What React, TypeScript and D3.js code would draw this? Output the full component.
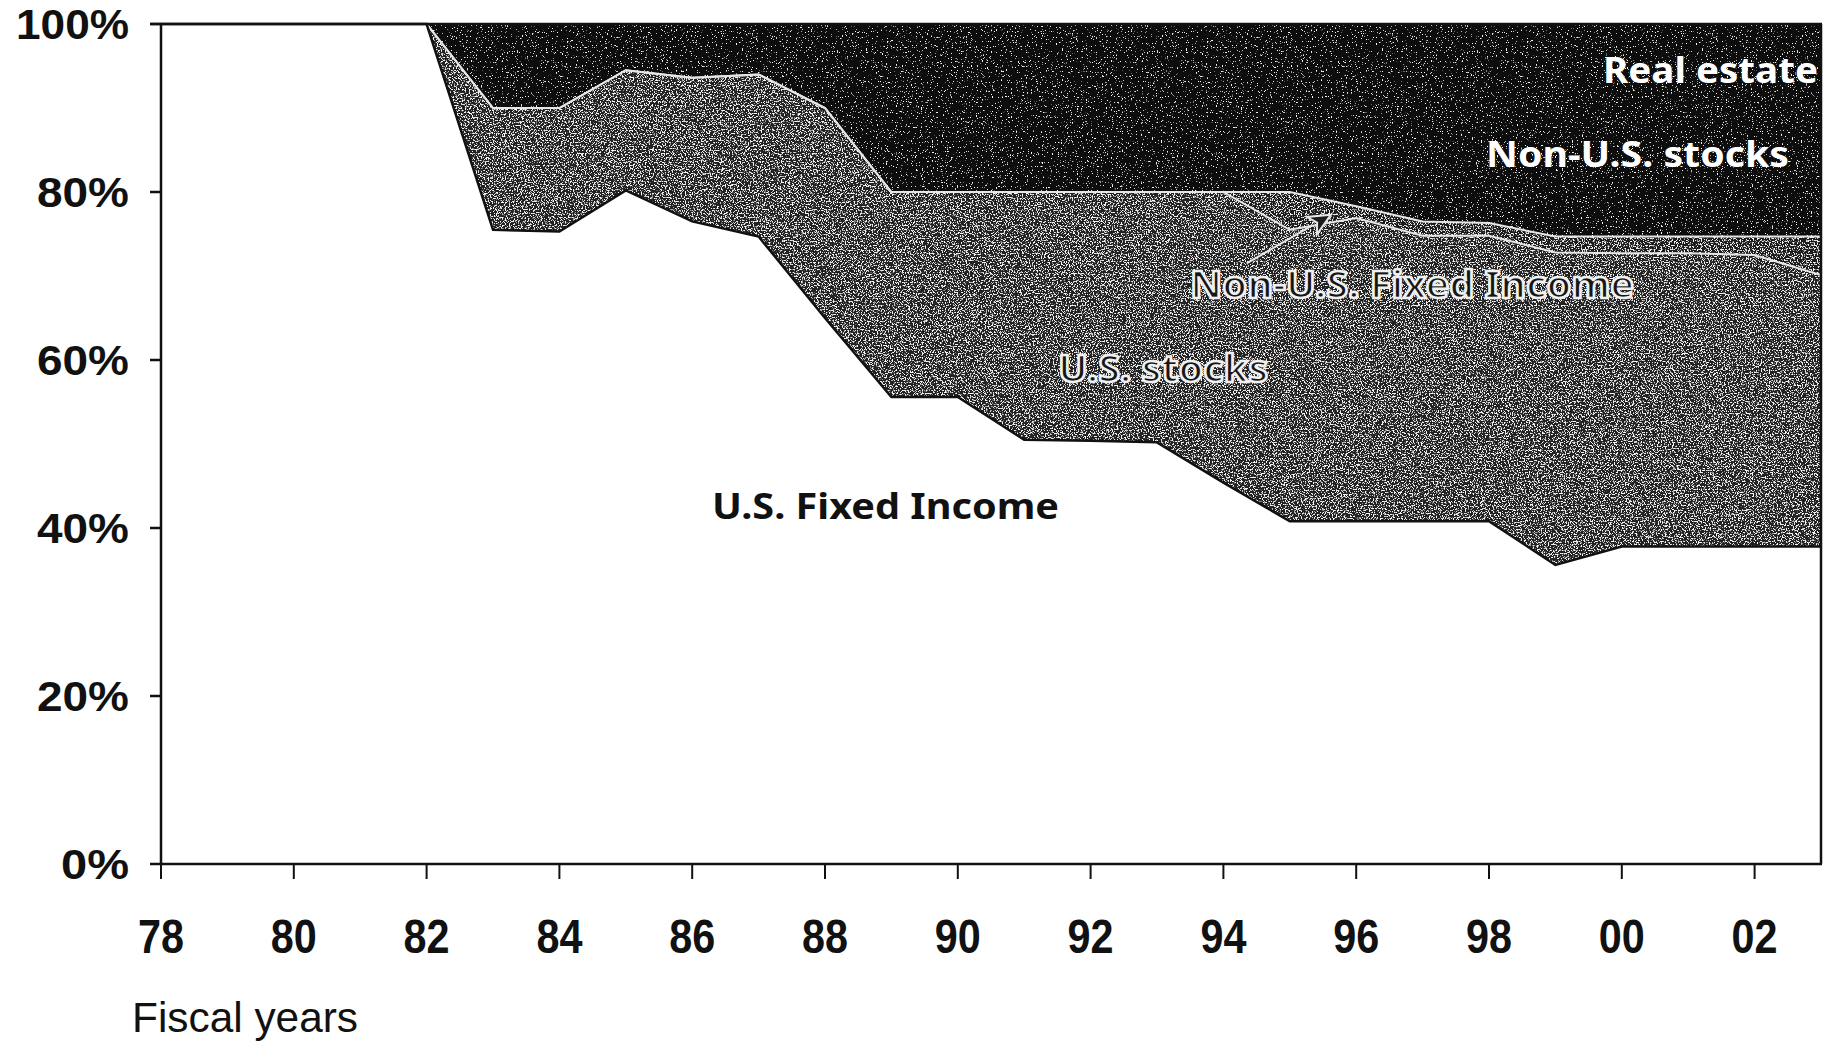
import React from "react";
import * as d3 from "d3";

const W = 1830;
const H = 1049;

// fiscal years 1978 - 2003
const years = [
  1978, 1979, 1980, 1981, 1982, 1983, 1984, 1985, 1986, 1987, 1988, 1989, 1990,
  1991, 1992, 1993, 1994, 1995, 1996, 1997, 1998, 1999, 2000, 2001, 2002, 2003,
];

// asset allocation, % of portfolio
const usFixedIncome = [
  100, 100, 100, 100, 100, 75.5, 75.3, 80.2, 76.5, 74.7, 65, 55.6, 55.6,
  50.5, 50.4, 50.2, 45.4, 40.8, 40.8, 40.8, 40.8, 35.6, 37.8, 37.8, 37.8, 37.8,
];
const usStocks = [
  0, 0, 0, 0, 0, 14.5, 14.7, 14.3, 17.1, 19.3, 25, 24.4, 24.4,
  29.5, 29.6, 29.8, 34.6, 34.7, 36.1, 34.0, 34.0, 37.2, 34.9, 34.9, 34.7, 32.3,
];
const nonUSFixedIncome = [
  0, 0, 0, 0, 0, 0, 0, 0, 0, 0, 0, 0, 0,
  0, 0, 0, 0, 4.5, 1.4, 1.7, 1.5, 1.9, 2.0, 2.0, 2.2, 4.6,
];
const nonUSStocks = [
  0, 0, 0, 0, 0, 10, 10, 5.5, 6.4, 6, 10, 15, 15,
  15, 15, 15, 15, 15, 16.7, 18.5, 18.7, 20.3, 20.3, 20.3, 20.3, 20.3,
];
// boundary with non-U.S. stocks is not legible in the scan -> estimate
const realEstate = [
  0, 0, 0, 0, 0, 0, 0, 0, 0, 0, 0, 5, 5,
  5, 5, 5, 5, 5, 5, 5, 5, 5, 5, 5, 5, 5,
];

const yTicks = [0, 20, 40, 60, 80, 100];
const xTicks = [1978, 1980, 1982, 1984, 1986, 1988, 1990, 1992, 1994, 1996, 1998, 2000, 2002];

const keys = ["usFixedIncome", "usStocks", "nonUSFixedIncome", "nonUSStocks", "realEstate"];

const fills = {
  usFixedIncome: { fill: "#ffffff", filter: undefined },
  usStocks: { fill: "#222222", filter: "url(#speckleLight)" },
  nonUSFixedIncome: { fill: "#1c1c1c", filter: "url(#speckleLight)" },
  nonUSStocks: { fill: "#0a0a0a", filter: "url(#speckleDark)" },
  realEstate: { fill: "#0a0a0a", filter: "url(#speckleDark)" },
};

const axisFont = "'Liberation Sans', Arial, sans-serif";
const labelFont = "'Noto Sans', 'DejaVu Sans', sans-serif";

const App = () => {
  const x = d3.scaleLinear().domain([1978, 2003]).range([161, 1821]);
  const y = d3.scaleLinear().domain([0, 100]).range([864, 24]);

  const rows = years.map((yr, i) => ({
    year: yr,
    usFixedIncome: usFixedIncome[i],
    usStocks: usStocks[i],
    nonUSFixedIncome: nonUSFixedIncome[i],
    nonUSStocks: nonUSStocks[i],
    realEstate: realEstate[i],
  }));
  const series = d3.stack().keys(keys)(rows);

  const area = d3
    .area()
    .x(d => x(d.data.year))
    .y0(d => y(d[0]))
    .y1(d => y(d[1]));
  const topLine = d3
    .line()
    .x(d => x(d.data.year))
    .y(d => y(d[1]));

  // arrow pointing at the thin non-U.S. fixed income band
  const a0 = [x(1994.35), y(71.5)];
  const a1 = [x(1995.62), y(77.3)];
  const ang = Math.atan2(a1[1] - a0[1], a1[0] - a0[0]);
  const hl = 22, hw = 10;
  const bx = a1[0] - hl * Math.cos(ang), by = a1[1] - hl * Math.sin(ang);
  const nx = -Math.sin(ang), ny = Math.cos(ang);
  const head = `M${a1[0]},${a1[1]} L${bx + nx * hw},${by + ny * hw} L${bx + 6 * Math.cos(ang)},${by + 6 * Math.sin(ang)} L${bx - nx * hw},${by - ny * hw} Z`;

  return (
    <svg
      width={W}
      height={H}
      style={{ position: "absolute", left: 0, top: 0, background: "#fff" }}
    >
      <defs>
        <filter id="speckleLight" x="0" y="0" width="100%" height="100%">
          <feTurbulence type="fractalNoise" baseFrequency="0.75" numOctaves="2" seed="7" result="n" />
          <feColorMatrix
            in="n"
            type="matrix"
            values="0 0 0 0 0.92  0 0 0 0 0.92  0 0 0 0 0.92  9 0 0 0 -4.75"
            result="dots"
          />
          <feComposite in="dots" in2="SourceGraphic" operator="in" result="clip" />
          <feMerge>
            <feMergeNode in="SourceGraphic" />
            <feMergeNode in="clip" />
          </feMerge>
        </filter>
        <filter id="speckleDark" x="0" y="0" width="100%" height="100%">
          <feTurbulence type="fractalNoise" baseFrequency="0.8" numOctaves="2" seed="3" result="n" />
          <feColorMatrix
            in="n"
            type="matrix"
            values="0 0 0 0 0.95  0 0 0 0 0.95  0 0 0 0 0.95  12 0 0 0 -7.9"
            result="dots"
          />
          <feComposite in="dots" in2="SourceGraphic" operator="in" result="clip" />
          <feMerge>
            <feMergeNode in="SourceGraphic" />
            <feMergeNode in="clip" />
          </feMerge>
        </filter>
      </defs>

      {/* stacked areas */}
      {series.map(s => (
        <path
          key={s.key}
          d={area(s)}
          fill={fills[s.key].fill}
          stroke={s.key === "usFixedIncome" ? "none" : fills[s.key].fill}
          strokeWidth={1}
          filter={fills[s.key].filter}
        />
      ))}

      {/* boundaries */}
      <path d={topLine(series[1])} fill="none" stroke="#e6e6e6" strokeWidth={2} />
      <path d={topLine(series[2])} fill="none" stroke="#e6e6e6" strokeWidth={2} />
      <path d={topLine(series[0])} fill="none" stroke="#111" strokeWidth={2.5} />

      {/* frame */}
      <g stroke="#111" strokeWidth={2.5} fill="none">
        <line x1={150} x2={1822} y1={y(100)} y2={y(100)} />
        <line x1={x(1978)} x2={x(1978)} y1={y(100)} y2={y(0)} />
        <line x1={x(1978)} x2={1822} y1={y(0)} y2={y(0)} />
        <line x1={1821} x2={1821} y1={y(100)} y2={y(0)} />
      </g>

      {/* y axis */}
      {yTicks.map(v => (
        <g key={v}>
          <line x1={150} x2={x(1978)} y1={y(v)} y2={y(v)} stroke="#111" strokeWidth={2.5} />
          <text
            x={129}
            y={y(v) + 15}
            textAnchor="end"
            fontFamily={axisFont}
            fontWeight="bold"
            fontSize={43}
            fill="#111"
            textLength={v === 100 ? 113 : v === 0 ? 68 : 92}
            lengthAdjust="spacingAndGlyphs"
          >
            {v}%
          </text>
        </g>
      ))}

      {/* x axis */}
      {xTicks.map(t => (
        <g key={t}>
          <line x1={x(t)} x2={x(t)} y1={y(0)} y2={y(0) + 15} stroke="#111" strokeWidth={2} />
          <text
            x={x(t)}
            y={953}
            textAnchor="middle"
            fontFamily={axisFont}
            fontWeight="bold"
            fontSize={48}
            fill="#111"
            textLength={46}
            lengthAdjust="spacingAndGlyphs"
          >
            {String(t % 100).padStart(2, "0")}
          </text>
        </g>
      ))}
      <text
        x={132}
        y={1032}
        fontFamily={axisFont}
        fontSize={42}
        fill="#111"
        textLength={226}
        lengthAdjust="spacingAndGlyphs"
      >
        Fiscal years
      </text>

      {/* series labels */}
      <text x={712} y={519} fontFamily={labelFont} fontWeight="bold" fontSize={36}
        fill="#111" textLength={347} lengthAdjust="spacingAndGlyphs">
        U.S. Fixed Income
      </text>
      <text x={1818} y={83} textAnchor="end" fontFamily={labelFont} fontWeight="bold"
        fontSize={36} fill="#fff" textLength={215} lengthAdjust="spacingAndGlyphs">
        Real estate
      </text>
      <text x={1789} y={167} textAnchor="end" fontFamily={labelFont} fontWeight="bold"
        fontSize={36} fill="#fff" textLength={303} lengthAdjust="spacingAndGlyphs">
        Non-U.S. stocks
      </text>
      <text x={1190} y={298} fontFamily={labelFont} fontWeight="bold" fontSize={38}
        fill="#151515" stroke="#f0f0f0" strokeWidth={2.6}
        textLength={444} lengthAdjust="spacingAndGlyphs">
        Non-U.S. Fixed Income
      </text>
      <text x={1058} y={382} fontFamily={labelFont} fontWeight="bold" fontSize={38}
        fill="#151515" stroke="#f0f0f0" strokeWidth={2.6}
        textLength={210} lengthAdjust="spacingAndGlyphs">
        U.S. stocks
      </text>

      {/* arrow */}
      <line x1={a0[0]} y1={a0[1]} x2={bx} y2={by} stroke="#e6e6e6" strokeWidth={2} />
      <path d={head} fill="#1c1c1c" stroke="#e6e6e6" strokeWidth={2} />
    </svg>
  );
};

export default App;
